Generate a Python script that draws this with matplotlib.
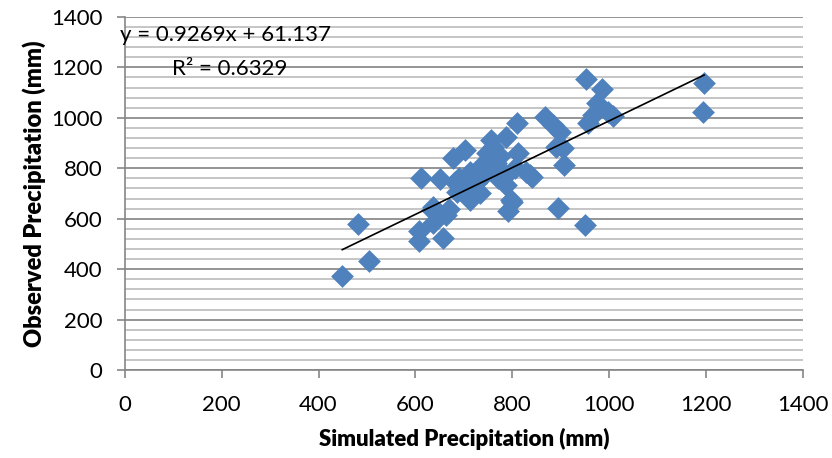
import numpy as np
import matplotlib.pyplot as plt
from matplotlib.ticker import MultipleLocator

plt.rcParams['font.family'] = ['Lato', 'DejaVu Sans']

# simulated vs observed annual precipitation (mm)
simulated = [449, 482, 504, 607, 608, 612, 635, 637, 637, 650, 657, 664, 670, 678,
             681, 685, 690, 702, 705, 712, 712, 718, 725, 733, 733, 745, 747, 757,
             760, 760, 767, 770, 775, 788, 788, 788, 791, 798, 800, 805, 809, 812,
             829, 836, 840, 867, 884, 891, 894, 898, 904, 906, 950, 952, 956, 966,
             974, 986, 997, 1008, 1196, 1194]
observed = [374, 579, 432, 513, 551, 763, 635, 582, 648, 756, 525, 615, 640, 840,
            747, 707, 760, 873, 734, 674, 787, 770, 740, 701, 806, 780, 860, 912,
            886, 840, 820, 760, 850, 925, 773, 734, 631, 674, 665, 800, 978, 860,
            787, 773, 767, 1005, 972, 886, 641, 945, 880, 813, 575, 1154, 981, 1011,
            1058, 1115, 1025, 1008, 1140, 1022]

slope = 0.9269
intercept = 61.137
r2 = 0.6329

fig = plt.figure(figsize=(8.32, 4.58), dpi=100)
ax = fig.add_axes([0.150, 0.192, 0.815, 0.771])

ax.scatter(simulated, observed, marker='D', s=135, color='#4F81BD', zorder=3, linewidths=0)

x_fit = np.array([min(simulated), max(simulated)])
ax.plot(x_fit, slope * x_fit + intercept, color='black', lw=1.2, zorder=4)

ax.set_xlim(0, 1400)
ax.set_ylim(0, 1400)
ax.xaxis.set_major_locator(MultipleLocator(200))
ax.yaxis.set_major_locator(MultipleLocator(200))
ax.yaxis.set_minor_locator(MultipleLocator(40))

ax.grid(which='major', axis='y', color='#8C8C8C', lw=1.3, zorder=0)
ax.grid(which='minor', axis='y', color='#C0C0C0', lw=1.3, zorder=0)
ax.set_axisbelow(True)

for side in ['top', 'right']:
    ax.spines[side].set_visible(False)
for side in ['left', 'bottom']:
    ax.spines[side].set_color('#868686')
    ax.spines[side].set_linewidth(1.2)

ax.tick_params(which='major', length=6, width=1.2, color='#868686', labelsize=16)
ax.tick_params(which='minor', length=0)
ax.tick_params(axis='x', pad=12)
ax.tick_params(axis='y', pad=10)

ax.set_xlabel('Simulated Precipitation (mm)', fontsize=16, fontweight='heavy', labelpad=9)
ax.set_ylabel('Observed Precipitation (mm)', fontsize=17, fontweight='heavy', labelpad=4)

ax.text(-10, 1330, f'y = {slope}x + {intercept}', fontsize=16, ha='left', va='center')
ax.text(98, 1195, f'R² = {r2}', fontsize=16, ha='left', va='center')

fig.savefig('out.png', dpi=100)
